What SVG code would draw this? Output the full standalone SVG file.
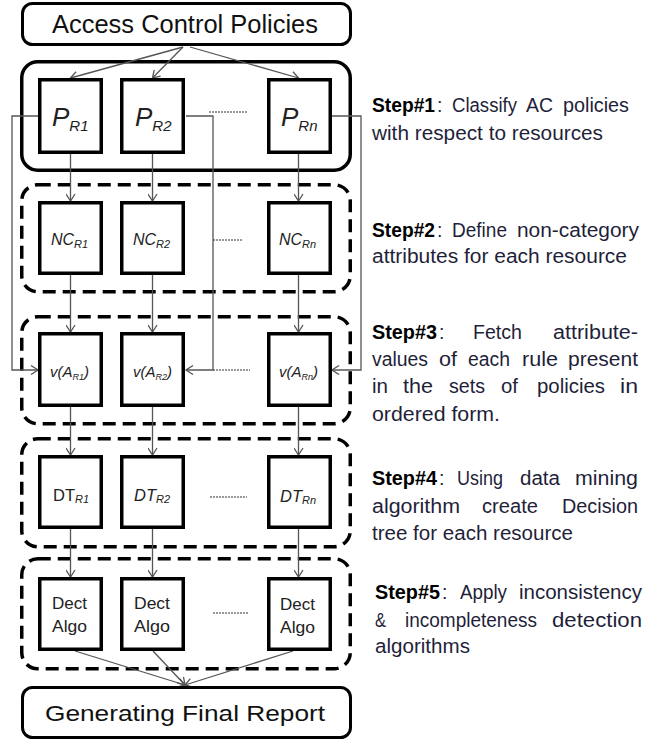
<svg xmlns="http://www.w3.org/2000/svg" width="662" height="743" viewBox="0 0 662 743">
  <style>
    .term { fill: #fff; stroke: #000; stroke-width: 3; }
    .grp { fill: none; stroke: #000; stroke-width: 3.5; }
    .grp-d { fill: none; stroke: #000; stroke-width: 3.5; stroke-dasharray: 13 7; }
    .box { fill: #fff; stroke: #000; stroke-width: 3.5; }
    .conn { fill: none; stroke: #555; stroke-width: 1.3; }
    .dots { fill: none; stroke: #333; stroke-width: 1; stroke-dasharray: 2 1; }
    .big { font-family: "Liberation Sans", Arial, sans-serif; fill: #111; }
    .lbl { font-family: "Liberation Sans", Arial, sans-serif; fill: #222; }
    .it { font-style: italic; }
    .st { font-family: "Liberation Sans", Arial, sans-serif; font-size: 19.5px; fill: #1f1f3a; }
    .stb { font-family: "Liberation Sans", Arial, sans-serif; font-size: 19.5px; font-weight: bold; fill: #000; }
  </style>
  <defs>
    <marker id="arr" viewBox="0 0 10 10" refX="8" refY="5" markerWidth="10" markerHeight="10" markerUnits="userSpaceOnUse" orient="auto">
      <path d="M1,0.5 L8,5 L1,9.5" fill="none" stroke="#555" stroke-width="1.3"/>
    </marker>
  </defs>

  <!-- step groups -->
  <g id="group1"><rect class="grp" x="21.75" y="61.75" width="328.5" height="108.5" rx="16"/></g>
  <g id="group2"><rect class="grp-d" x="21.75" y="184.75" width="328.5" height="107" rx="16"/></g>
  <g id="group3"><rect class="grp-d" x="21.75" y="316.75" width="328.5" height="107" rx="16"/></g>
  <g id="group4"><rect class="grp-d" x="21.75" y="438.75" width="328.5" height="108" rx="16"/></g>
  <g id="group5"><rect class="grp-d" x="21.75" y="558.75" width="328.5" height="110" rx="16"/></g>

  <!-- connectors -->
  <g id="connectors">
    <line class="conn" x1="183" y1="47" x2="70.5" y2="78" marker-end="url(#arr)"/>
    <line class="conn" x1="183" y1="47" x2="152.5" y2="78" marker-end="url(#arr)"/>
    <line class="conn" x1="190" y1="47" x2="298.5" y2="78" marker-end="url(#arr)"/>

    <line class="conn" x1="70.5" y1="154" x2="70.5" y2="201" marker-end="url(#arr)"/>
    <line class="conn" x1="152.5" y1="154" x2="152.5" y2="201" marker-end="url(#arr)"/>
    <line class="conn" x1="298.5" y1="154" x2="298.5" y2="201" marker-end="url(#arr)"/>

    <line class="conn" x1="70.5" y1="275" x2="70.5" y2="332" marker-end="url(#arr)"/>
    <line class="conn" x1="152.5" y1="275" x2="152.5" y2="332" marker-end="url(#arr)"/>
    <line class="conn" x1="298.5" y1="275" x2="298.5" y2="332" marker-end="url(#arr)"/>

    <line class="conn" x1="70.5" y1="407" x2="70.5" y2="455" marker-end="url(#arr)"/>
    <line class="conn" x1="152.5" y1="407" x2="152.5" y2="455" marker-end="url(#arr)"/>
    <line class="conn" x1="298.5" y1="407" x2="298.5" y2="455" marker-end="url(#arr)"/>

    <line class="conn" x1="70.5" y1="529" x2="70.5" y2="577" marker-end="url(#arr)"/>
    <line class="conn" x1="152.5" y1="529" x2="152.5" y2="577" marker-end="url(#arr)"/>
    <line class="conn" x1="298.5" y1="529" x2="298.5" y2="577" marker-end="url(#arr)"/>

    <!-- policy sets fed back to the attribute-value fetch -->
    <path class="conn" d="M38,116 H12 V370 H38" marker-end="url(#arr)"/>
    <path class="conn" d="M186,116 H213 V370 H186" marker-end="url(#arr)"/>
    <path class="conn" d="M332,116 H361 V370 H332" marker-end="url(#arr)"/>

    <line class="conn" x1="75" y1="651" x2="185" y2="685" marker-end="url(#arr)"/>
    <line class="conn" x1="153" y1="651" x2="185" y2="685" marker-end="url(#arr)"/>
    <line class="conn" x1="293" y1="651" x2="185" y2="685" marker-end="url(#arr)"/>

    <!-- ellipsis between columns -->
    <line class="dots" x1="209" y1="112" x2="247" y2="112"/>
    <line class="dots" x1="213" y1="240" x2="242" y2="240"/>
    <line class="dots" x1="213" y1="370" x2="250" y2="370"/>
    <line class="dots" x1="210" y1="497" x2="247" y2="497"/>
    <line class="dots" x1="213" y1="613" x2="249" y2="613"/>
  </g>

  <!-- terminals -->
  <g id="acp">
    <rect class="term" x="22.5" y="3.5" width="328" height="41" rx="10"/>
    <text class="big" x="52" y="33" font-size="25" textLength="266" lengthAdjust="spacingAndGlyphs">Access Control Policies</text>
  </g>
  <g id="report">
    <rect class="term" x="22.5" y="687.5" width="328" height="50" rx="10"/>
    <text class="big" x="45" y="721" font-size="22" textLength="280" lengthAdjust="spacingAndGlyphs">Generating Final Report</text>
  </g>

  <!-- policies per resource -->
  <g id="p-r1">
    <rect class="box" x="39.75" y="79.75" width="61.5" height="72.5"/>
    <text class="lbl it" x="52" y="126" font-size="26">P<tspan font-size="15" dy="5">R1</tspan></text>
  </g>
  <g id="p-r2">
    <rect class="box" x="121.75" y="79.75" width="61.5" height="72.5"/>
    <text class="lbl it" x="135" y="126" font-size="26">P<tspan font-size="15" dy="5">R2</tspan></text>
  </g>
  <g id="p-rn">
    <rect class="box" x="268.75" y="79.75" width="61.5" height="72.5"/>
    <text class="lbl it" x="281" y="126" font-size="26">P<tspan font-size="15" dy="5">Rn</tspan></text>
  </g>

  <!-- non-category attributes -->
  <g id="nc-r1">
    <rect class="box" x="39.75" y="202.75" width="61.5" height="70.5"/>
    <text class="lbl it" x="51" y="245" font-size="16">NC<tspan font-size="11" dy="3">R1</tspan></text>
  </g>
  <g id="nc-r2">
    <rect class="box" x="121.75" y="202.75" width="61.5" height="70.5"/>
    <text class="lbl it" x="133" y="245" font-size="16">NC<tspan font-size="11" dy="3">R2</tspan></text>
  </g>
  <g id="nc-rn">
    <rect class="box" x="268.75" y="202.75" width="61.5" height="70.5"/>
    <text class="lbl it" x="279" y="245" font-size="16">NC<tspan font-size="11" dy="3">Rn</tspan></text>
  </g>

  <!-- attribute values -->
  <g id="va-r1">
    <rect class="box" x="39.75" y="333.75" width="61.5" height="71.5"/>
    <text class="lbl it" x="50" y="377" font-size="15">v(A<tspan font-size="9" dy="3">R1</tspan><tspan dy="-3">)</tspan></text>
  </g>
  <g id="va-r2">
    <rect class="box" x="121.75" y="333.75" width="61.5" height="71.5"/>
    <text class="lbl it" x="133" y="377" font-size="15">v(A<tspan font-size="9" dy="3">R2</tspan><tspan dy="-3">)</tspan></text>
  </g>
  <g id="va-rn">
    <rect class="box" x="268.75" y="333.75" width="61.5" height="71.5"/>
    <text class="lbl it" x="279" y="377" font-size="15">v(A<tspan font-size="9" dy="3">Rn</tspan><tspan dy="-3">)</tspan></text>
  </g>

  <!-- decision trees -->
  <g id="dt-r1">
    <rect class="box" x="39.75" y="456.75" width="61.5" height="70.5"/>
    <text class="lbl" x="53" y="501" font-size="16.5">DT<tspan class="it" font-size="11" dy="2">R1</tspan></text>
  </g>
  <g id="dt-r2">
    <rect class="box" x="121.75" y="456.75" width="61.5" height="70.5"/>
    <text class="lbl it" x="134" y="501" font-size="16.5">DT<tspan font-size="11" dy="2">R2</tspan></text>
  </g>
  <g id="dt-rn">
    <rect class="box" x="268.75" y="456.75" width="61.5" height="70.5"/>
    <text class="lbl it" x="280" y="502" font-size="16.5">DT<tspan font-size="11" dy="2">Rn</tspan></text>
  </g>

  <!-- detection algorithms -->
  <g id="dect-r1">
    <rect class="box" x="39.75" y="578.75" width="61.5" height="70.5"/>
    <text class="lbl" x="52" y="609" font-size="17" textLength="35" lengthAdjust="spacingAndGlyphs">Dect</text>
    <text class="lbl" x="52" y="632" font-size="17" textLength="35" lengthAdjust="spacingAndGlyphs">Algo</text>
  </g>
  <g id="dect-r2">
    <rect class="box" x="121.75" y="578.75" width="61.5" height="70.5"/>
    <text class="lbl" x="134" y="609" font-size="17" textLength="36" lengthAdjust="spacingAndGlyphs">Dect</text>
    <text class="lbl" x="134" y="632" font-size="17" textLength="36" lengthAdjust="spacingAndGlyphs">Algo</text>
  </g>
  <g id="dect-rn">
    <rect class="box" x="268.75" y="578.75" width="61.5" height="70.5"/>
    <text class="lbl" x="280" y="610" font-size="17" textLength="35" lengthAdjust="spacingAndGlyphs">Dect</text>
    <text class="lbl" x="280" y="633" font-size="17" textLength="35" lengthAdjust="spacingAndGlyphs">Algo</text>
  </g>

  <!-- step descriptions -->
  <g id="step1">
    <text class="stb" x="372" y="112" textLength="63" lengthAdjust="spacingAndGlyphs">Step#1</text>
    <text class="st" x="437" y="112">:</text>
    <text class="st" x="452" y="112" textLength="65" lengthAdjust="spacingAndGlyphs">Classify</text>
    <text class="st" x="526" y="112" textLength="27" lengthAdjust="spacingAndGlyphs">AC</text>
    <text class="st" x="563" y="112" textLength="66" lengthAdjust="spacingAndGlyphs">policies</text>
    <text class="st" x="372" y="140" textLength="231" lengthAdjust="spacingAndGlyphs">with respect to resources</text>
  </g>
  <g id="step2">
    <text class="stb" x="372" y="237" textLength="63" lengthAdjust="spacingAndGlyphs">Step#2</text>
    <text class="st" x="437" y="237">:</text>
    <text class="st" x="452" y="237" textLength="55" lengthAdjust="spacingAndGlyphs">Define</text>
    <text class="st" x="517" y="237" textLength="122" lengthAdjust="spacingAndGlyphs">non-category</text>
    <text class="st" x="372" y="263" textLength="255" lengthAdjust="spacingAndGlyphs">attributes for each resource</text>
  </g>
  <g id="step3">
    <text class="stb" x="372" y="339" textLength="65" lengthAdjust="spacingAndGlyphs">Step#3</text>
    <text class="st" x="439" y="339">:</text>
    <text class="st" x="473" y="339" textLength="49" lengthAdjust="spacingAndGlyphs">Fetch</text>
    <text class="st" x="553" y="339" textLength="85" lengthAdjust="spacingAndGlyphs">attribute-</text>
    <text class="st" x="372" y="366" textLength="56" lengthAdjust="spacingAndGlyphs">values</text>
    <text class="st" x="439" y="366" textLength="18" lengthAdjust="spacingAndGlyphs">of</text>
    <text class="st" x="468" y="366" textLength="42" lengthAdjust="spacingAndGlyphs">each</text>
    <text class="st" x="522" y="366" textLength="36" lengthAdjust="spacingAndGlyphs">rule</text>
    <text class="st" x="568" y="366" textLength="70" lengthAdjust="spacingAndGlyphs">present</text>
    <text class="st" x="372" y="393" textLength="16" lengthAdjust="spacingAndGlyphs">in</text>
    <text class="st" x="403" y="393" textLength="30" lengthAdjust="spacingAndGlyphs">the</text>
    <text class="st" x="449" y="393" textLength="36" lengthAdjust="spacingAndGlyphs">sets</text>
    <text class="st" x="501" y="393" textLength="17" lengthAdjust="spacingAndGlyphs">of</text>
    <text class="st" x="537" y="393" textLength="68" lengthAdjust="spacingAndGlyphs">policies</text>
    <text class="st" x="620" y="393" textLength="18" lengthAdjust="spacingAndGlyphs">in</text>
    <text class="st" x="372" y="421" textLength="128" lengthAdjust="spacingAndGlyphs">ordered form.</text>
  </g>
  <g id="step4">
    <text class="stb" x="372" y="485" textLength="65" lengthAdjust="spacingAndGlyphs">Step#4</text>
    <text class="st" x="439" y="485">:</text>
    <text class="st" x="457" y="485" textLength="46" lengthAdjust="spacingAndGlyphs">Using</text>
    <text class="st" x="520" y="485" textLength="40" lengthAdjust="spacingAndGlyphs">data</text>
    <text class="st" x="575" y="485" textLength="63" lengthAdjust="spacingAndGlyphs">mining</text>
    <text class="st" x="372" y="513" textLength="88" lengthAdjust="spacingAndGlyphs">algorithm</text>
    <text class="st" x="482" y="513" textLength="56" lengthAdjust="spacingAndGlyphs">create</text>
    <text class="st" x="562" y="513" textLength="76" lengthAdjust="spacingAndGlyphs">Decision</text>
    <text class="st" x="372" y="540" textLength="201" lengthAdjust="spacingAndGlyphs">tree for each resource</text>
  </g>
  <g id="step5">
    <text class="stb" x="375" y="599" textLength="65" lengthAdjust="spacingAndGlyphs">Step#5</text>
    <text class="st" x="442" y="599">:</text>
    <text class="st" x="460" y="599" textLength="47" lengthAdjust="spacingAndGlyphs">Apply</text>
    <text class="st" x="519" y="599" textLength="123" lengthAdjust="spacingAndGlyphs">inconsistency</text>
    <text class="st" x="375" y="627" textLength="11" lengthAdjust="spacingAndGlyphs">&amp;</text>
    <text class="st" x="405" y="627" textLength="132" lengthAdjust="spacingAndGlyphs">incompleteness</text>
    <text class="st" x="552" y="627" textLength="90" lengthAdjust="spacingAndGlyphs">detection</text>
    <text class="st" x="375" y="653" textLength="95" lengthAdjust="spacingAndGlyphs">algorithms</text>
  </g>
</svg>
